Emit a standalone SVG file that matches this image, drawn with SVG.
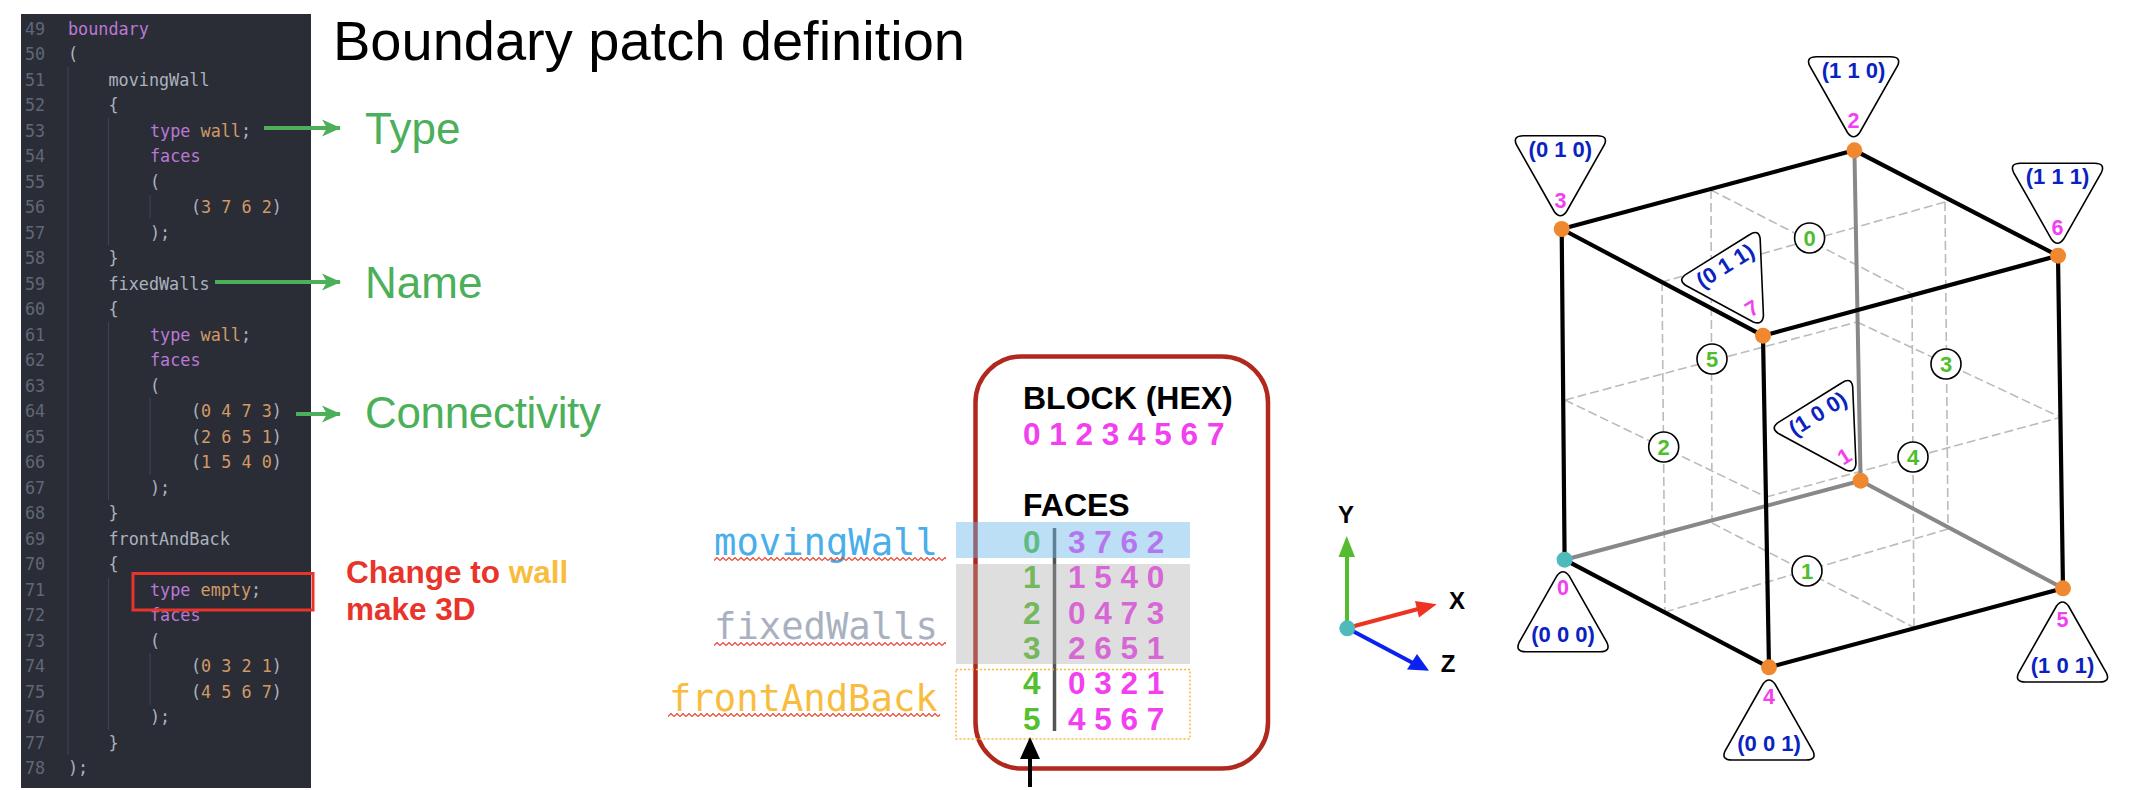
<svg xmlns="http://www.w3.org/2000/svg" xmlns:xlink="http://www.w3.org/1999/xlink" width="2130" height="790" viewBox="0 0 2130 790">
<style>
text{font-family:"Liberation Sans",Arial,sans-serif}
.c text,.lbl{font-family:"DejaVu Sans Mono","Liberation Mono",monospace}
.c text{font-size:16.8px;fill:#abb2bf}
.c .n{fill:#5f6878}
.c .k{fill:#bb78d6}
.c .v{fill:#d19a66}
.g{fill:#4caf5a;font-size:44px}
.r{fill:#e8342a;font-size:31.5px;font-weight:bold}
.h{fill:#000;font-size:32px;font-weight:bold}
.m{fill:#f23ff0;font-size:31.5px;font-weight:bold}
.f{fill:#55c02f;font-size:31.5px;font-weight:bold}
.lbl{font-size:37.2px}
.edge{stroke:#000;stroke-width:4.2;fill:none}
.back{stroke:#888;stroke-width:4;fill:none}
.dash{stroke:#bbb;stroke-width:1.6;stroke-dasharray:9 4;fill:none}
.tri{fill:#fff;stroke:#000;stroke-width:1.6}
.co{fill:#0a23c0;font-size:22px;font-weight:bold;text-anchor:middle}
.vn{fill:#f23ff0;font-size:21.5px;font-weight:bold;text-anchor:middle}
.vo{fill:#f0882f}
.ci{fill:#fff;stroke:#000;stroke-width:1.6}
.cn{fill:#4fbe2d;font-size:22px;font-weight:bold;text-anchor:middle}
.ax{font-size:24px;font-weight:bold;text-anchor:middle;fill:#000}
</style>
<defs>
<path id="tri" d="M-37-81H37Q48-81 44-72L6-5Q0 3-6-5L-44-72Q-48-81-37-81Z"/>
<pattern id="zig" width="6" height="6" patternUnits="userSpaceOnUse"><path d="M0 4.5L3 1.5L6 4.5" fill="none" stroke="#e8402a" stroke-width="1.2"/></pattern>
<marker id="ga" viewBox="0 0 19 20" refX="18" refY="10" markerWidth="19" markerHeight="20" markerUnits="userSpaceOnUse" orient="auto"><path d="M0 1.500L19 10L0 18.500L5 10Z" fill="#4caf5a"/></marker>
</defs>

<g id="code" class="c">
<rect x="21" y="14" width="290" height="774" fill="#2a2d35"/>
<path d="M68 67V755M108.500 118V245M108.500 322V500M108.500 578V730M150 195V218M150 398V475M150 653V705" stroke="#3e4450" stroke-width="1" fill="none"/>
<text class="n" x="25" y="34.500">49</text><text class="k" x="68" y="34.500">boundary</text>
<text class="n" x="25" y="60">50</text><text x="68" y="60">(</text>
<text class="n" x="25" y="85.500">51</text><text x="108.500" y="85.500">movingWall</text>
<text class="n" x="25" y="111">52</text><text x="108.500" y="111">{</text>
<text class="n" x="25" y="136.500">53</text><text x="150" y="136.500"><tspan class="k">type</tspan> <tspan class="v">wall</tspan>;</text>
<text class="n" x="25" y="162">54</text><text class="k" x="150" y="162">faces</text>
<text class="n" x="25" y="187.500">55</text><text x="150" y="187.500">(</text>
<text class="n" x="25" y="213">56</text><text x="191" y="213">(<tspan class="v">3 7 6 2</tspan>)</text>
<text class="n" x="25" y="238.500">57</text><text x="150" y="238.500">);</text>
<text class="n" x="25" y="264">58</text><text x="108.500" y="264">}</text>
<text class="n" x="25" y="289.500">59</text><text x="108.500" y="289.500">fixedWalls</text>
<text class="n" x="25" y="315">60</text><text x="108.500" y="315">{</text>
<text class="n" x="25" y="340.500">61</text><text x="150" y="340.500"><tspan class="k">type</tspan> <tspan class="v">wall</tspan>;</text>
<text class="n" x="25" y="366">62</text><text class="k" x="150" y="366">faces</text>
<text class="n" x="25" y="391.500">63</text><text x="150" y="391.500">(</text>
<text class="n" x="25" y="417">64</text><text x="191" y="417">(<tspan class="v">0 4 7 3</tspan>)</text>
<text class="n" x="25" y="442.500">65</text><text x="191" y="442.500">(<tspan class="v">2 6 5 1</tspan>)</text>
<text class="n" x="25" y="468">66</text><text x="191" y="468">(<tspan class="v">1 5 4 0</tspan>)</text>
<text class="n" x="25" y="493.500">67</text><text x="150" y="493.500">);</text>
<text class="n" x="25" y="519">68</text><text x="108.500" y="519">}</text>
<text class="n" x="25" y="544.500">69</text><text x="108.500" y="544.500">frontAndBack</text>
<text class="n" x="25" y="570">70</text><text x="108.500" y="570">{</text>
<text class="n" x="25" y="595.500">71</text><text x="150" y="595.500"><tspan class="k">type</tspan> <tspan class="v">empty</tspan>;</text>
<text class="n" x="25" y="621">72</text><text class="k" x="150" y="621">faces</text>
<text class="n" x="25" y="646.500">73</text><text x="150" y="646.500">(</text>
<text class="n" x="25" y="672">74</text><text x="191" y="672">(<tspan class="v">0 3 2 1</tspan>)</text>
<text class="n" x="25" y="697.500">75</text><text x="191" y="697.500">(<tspan class="v">4 5 6 7</tspan>)</text>
<text class="n" x="25" y="723">76</text><text x="150" y="723">);</text>
<text class="n" x="25" y="748.500">77</text><text x="108.500" y="748.500">}</text>
<text class="n" x="25" y="774">78</text><text x="68" y="774">);</text>
</g>

<text id="title" x="333" y="60" font-size="56" fill="#000">Boundary patch definition</text>

<g id="callouts">
<text class="g" x="365" y="144">Type</text>
<text class="g" x="365" y="298">Name</text>
<text class="g" x="365" y="428" textLength="236">Connectivity</text>
<text class="r" x="346" y="583">Change to <tspan fill="#f8bd3e">wall</tspan></text>
<text class="r" x="346" y="620">make 3D</text>
<rect x="133" y="573.500" width="180" height="36.500" fill="none" stroke="#e8342a" stroke-width="3"/>
</g>

<g id="table">
<text class="h" x="1023" y="409">BLOCK (HEX)</text>
<text class="m" x="1023" y="445">0 1 2 3 4 5 6 7</text>
<text class="h" x="1023" y="516">FACES</text>
<text class="f" x="1023" y="552.500">0</text><text class="m" x="1068" y="552.500">3 7 6 2</text>
<text class="f" x="1023" y="588">1</text><text class="m" x="1068" y="588">1 5 4 0</text>
<text class="f" x="1023" y="624">2</text><text class="m" x="1068" y="624">0 4 7 3</text>
<text class="f" x="1023" y="659">3</text><text class="m" x="1068" y="659">2 6 5 1</text>
<text class="f" x="1023" y="694">4</text><text class="m" x="1068" y="694">0 3 2 1</text>
<text class="f" x="1023" y="730">5</text><text class="m" x="1068" y="730">4 5 6 7</text>
<line x1="1054.500" y1="528" x2="1054.500" y2="731" stroke="#555" stroke-width="3.500"/>
<rect x="975.500" y="356.500" width="292.500" height="412" rx="46" fill="none" stroke="#b0281e" stroke-width="4.500"/>
<rect x="956" y="522" width="234" height="36" fill="#6bb8ec" opacity=".45"/>
<rect x="956" y="564" width="234" height="100" fill="#a8a8a8" opacity=".38"/>
<rect x="956" y="669.500" width="234" height="69.500" fill="none" stroke="#f5b942" stroke-width="1.500" stroke-dasharray="2 2"/>
<text class="lbl" x="714" y="555" fill="#4aaeea">movingWall</text>
<text class="lbl" x="714" y="639" fill="#a9b0bf">fixedWalls</text>
<text class="lbl" x="669" y="711" fill="#f8bd3e">frontAndBack</text>
<g transform="translate(714 556)"><rect width="232" height="6" fill="url(#zig)"/></g>
<g transform="translate(714 641)"><rect width="232" height="6" fill="url(#zig)"/></g>
<g transform="translate(668 712)"><rect width="272" height="6" fill="url(#zig)"/></g>
</g>

<g id="axes">
<text class="ax" x="1346" y="523">Y</text>
<text class="ax" x="1457" y="609">X</text>
<text class="ax" x="1448" y="672">Z</text>
</g>

<g id="connectors">
<path d="M264 128H340" stroke="#4caf5a" stroke-width="4" marker-end="url(#ga)"/>
<path d="M215 282H340" stroke="#4caf5a" stroke-width="4" marker-end="url(#ga)"/>
<path d="M296 414H340" stroke="#4caf5a" stroke-width="4" marker-end="url(#ga)"/>
<path d="M1030 787V755" stroke="#000" stroke-width="4"/><path d="M1030 737L1040 759H1020Z" fill="#000"/>
<path d="M1347 628V554" stroke="#55bb30" stroke-width="4"/><path d="M1346.700 536L1355 557H1338.500Z" fill="#55bb30"/>
<path d="M1347 628L1420 608.500" stroke="#ee3322" stroke-width="4"/><path d="M1436.700 604.300L1419 617.500L1415 601Z" fill="#ee3322"/>
<path d="M1347 628L1413 663" stroke="#0a22f0" stroke-width="4"/><path d="M1429 670.700L1407 669.500L1417 654Z" fill="#0a22f0"/>
<path class="dash" d="M1711 190L1911 293M1945 202L1662 282M1711 190L1712 522M1662 282L1665 612M1912 293L1914 627M1945 202L1948 528M1565 400L1857 322M1565 400L1766 497M1766 497L2058 418M1857 322L2058 416M1665 612L1948 529M1712 523L1913 627"/>
<path class="back" d="M1854.400 150.300L1860.600 480.700M1860.600 480.700L1564.600 559.700M1860.600 480.700L2063 588.300"/>
<path class="edge" d="M1561.700 229L1854.400 150.300L2058 255.700L1763 335.700ZM1561.700 229L1564.600 559.700L1769 667.300L2063 588.300L2058 255.700M1763 335.700L1769 667.300"/>
</g>

<g id="face-0"><circle class="ci" cx="1809.600" cy="238" r="15"/><text class="cn" x="1809.600" y="246">0</text></g>
<g id="face-1"><circle class="ci" cx="1807" cy="571" r="15"/><text class="cn" x="1807" y="579">1</text></g>
<g id="face-2"><circle class="ci" cx="1663.700" cy="447" r="15"/><text class="cn" x="1663.700" y="455">2</text></g>
<g id="face-3"><circle class="ci" cx="1946" cy="364" r="15"/><text class="cn" x="1946" y="372">3</text></g>
<g id="face-4"><circle class="ci" cx="1913" cy="457" r="15"/><text class="cn" x="1913" y="465">4</text></g>
<g id="face-5"><circle class="ci" cx="1712" cy="359" r="15"/><text class="cn" x="1712" y="367">5</text></g>

<g id="vertex-0"><use href="#tri" class="tri" transform="translate(1563 570.700) scale(1 -1)"/><text class="vn" x="1563" y="595">0</text><text class="co" x="1563" y="641.700">(0 0 0)</text><circle cx="1564.600" cy="559.700" r="8" fill="#4fb9bb"/></g>
<g id="vertex-1"><g transform="translate(1853.500 471) rotate(-32)"><use href="#tri" class="tri"/><text class="co" x="0" y="-60">(1 0 0)</text><text class="vn" x="0" y="-10">1</text></g><circle class="vo" cx="1860.600" cy="480.700" r="8"/></g>
<g id="vertex-2"><use href="#tri" class="tri" transform="translate(1853.600 137.700)"/><text class="co" x="1853.600" y="77.500">(1 1 0)</text><text class="vn" x="1853.600" y="128">2</text><circle class="vo" cx="1854.400" cy="150.300" r="8"/></g>
<g id="vertex-3"><use href="#tri" class="tri" transform="translate(1560.400 216.700)"/><text class="co" x="1560.400" y="156.700">(0 1 0)</text><text class="vn" x="1560.400" y="207.700">3</text><circle class="vo" cx="1561.700" cy="229" r="8"/></g>
<g id="vertex-4"><use href="#tri" class="tri" transform="translate(1769 679) scale(1 -1)"/><text class="vn" x="1769" y="704">4</text><text class="co" x="1769" y="750.700">(0 0 1)</text><circle class="vo" cx="1769" cy="667.300" r="8"/></g>
<g id="vertex-5"><use href="#tri" class="tri" transform="translate(2062.500 601) scale(1 -1)"/><text class="vn" x="2062.500" y="626.700">5</text><text class="co" x="2062.500" y="673">(1 0 1)</text><circle class="vo" cx="2063" cy="588.300" r="8"/></g>
<g id="vertex-6"><use href="#tri" class="tri" transform="translate(2057.500 244.300)"/><text class="co" x="2057.500" y="184">(1 1 1)</text><text class="vn" x="2057.500" y="235">6</text><circle class="vo" cx="2058" cy="255.700" r="8"/></g>
<g id="vertex-7"><g transform="translate(1761 323) rotate(-32)"><use href="#tri" class="tri"/><text class="co" x="0" y="-60">(0 1 1)</text><text class="vn" x="0" y="-10">7</text></g><circle class="vo" cx="1763" cy="335.700" r="8"/></g>
<g id="axes-origin"><circle cx="1347.300" cy="628.300" r="8" fill="#4fb9bb"/></g>
</svg>
